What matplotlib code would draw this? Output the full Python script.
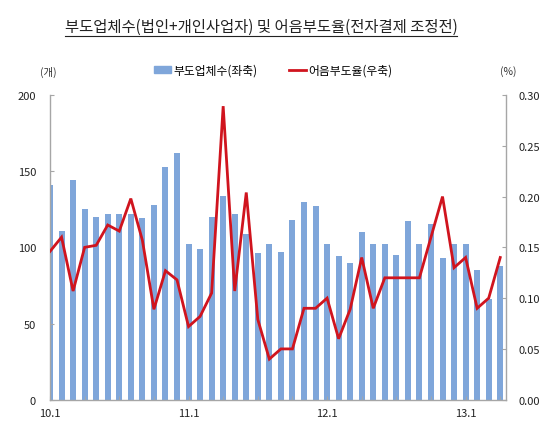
import matplotlib
matplotlib.use("Agg")
import matplotlib.pyplot as plt
from matplotlib.lines import Line2D
from matplotlib.patches import Patch
import numpy as np

plt.rcParams['font.family'] = ['Noto Sans CJK KR', 'DejaVu Sans']

# 월 (2010.1 ~ 2013.4)
months = [f"{y}.{m}" for y in (10, 11, 12, 13) for m in range(1, 13)][:40]

# 부도업체수 (좌축, 개)
firms = [141, 111, 144, 125, 120, 122, 122, 122, 119, 128,
         153, 162, 102, 99, 120, 134, 122, 109, 96, 102,
         97, 118, 130, 127, 102, 94, 90, 110, 102, 102,
         95, 117, 102, 115, 93, 102, 102, 85, 66, 88]

# 어음부도율 (우축, %)
rate = [0.146, 0.16, 0.107, 0.15, 0.152, 0.172, 0.166, 0.198, 0.157, 0.089,
        0.127, 0.118, 0.072, 0.082, 0.105, 0.289, 0.107, 0.204, 0.079, 0.04,
        0.05, 0.05, 0.09, 0.09, 0.10, 0.06, 0.089, 0.14, 0.09, 0.12,
        0.12, 0.12, 0.12, 0.16, 0.20, 0.13, 0.14, 0.09, 0.10, 0.14]

bar_color = '#7fa6da'
line_color = '#d0141e'
axis_gray = '#a6a6a6'

fig = plt.figure(figsize=(5.6, 4.31), dpi=100)
ax = fig.add_axes([0.0893, 0.0703, 0.8143, 0.707])
ax2 = ax.twinx()

x = np.arange(len(months))
ax.bar(x, firms, width=0.52, color=bar_color, zorder=1)
ax2.plot(x, rate, color=line_color, lw=2.0, solid_joinstyle='miter', zorder=3)

ax.set_xlim(0, len(months) - 0.5)
ax.set_ylim(0, 200)
ax2.set_ylim(0, 0.30)

ax.set_yticks([0, 50, 100, 150, 200])
ax2.set_yticks([0, 0.05, 0.10, 0.15, 0.20, 0.25, 0.30])
ax2.set_yticklabels([f"{v:.2f}" for v in [0, 0.05, 0.10, 0.15, 0.20, 0.25, 0.30]])

major = [i for i, m in enumerate(months) if m.endswith('.1') and not m.endswith('.11')]
ax.set_xticks(major)
ax.set_xticklabels([months[i] for i in major])
ax.set_xticks(np.arange(0, len(months), 3), minor=True)

for a in (ax, ax2):
    for s in a.spines.values():
        s.set_color(axis_gray)
        s.set_linewidth(1.0)
    a.spines['top'].set_visible(False)
ax.spines['right'].set_visible(False)
ax2.spines['left'].set_visible(False)
ax2.spines['bottom'].set_visible(False)

ax.tick_params(axis='y', direction='in', length=3, color=axis_gray,
               labelsize=8, pad=10, labelcolor='#222222')
ax2.tick_params(axis='y', direction='in', length=3, color=axis_gray,
                labelsize=8, pad=9, labelcolor='#222222')
ax.tick_params(axis='x', which='both', direction='in', length=3, color=axis_gray,
               labelsize=8, pad=6, labelcolor='#222222')

# 축 단위
fig.text(0.086, 0.833, '(개)', ha='center', va='center', fontsize=7.5, color='#333333')
fig.text(0.907, 0.833, '(%)', ha='center', va='center', fontsize=7.5, color='#333333')

# 범례
handles = [Patch(color=bar_color), Line2D([0], [0], color=line_color, lw=2)]
fig.legend(handles, ['부도업체수(좌축)', '어음부도율(우축)'], loc='center',
           bbox_to_anchor=(0.488, 0.835), ncol=2, frameon=False, fontsize=8.5,
           handlelength=1.5, handleheight=0.6, columnspacing=2.6, handletextpad=0.2)

# 제목 (밑줄)
title = fig.text(0.466, 0.937, '부도업체수(법인+개인사업자) 및 어음부도율(전자결제 조정전)',
                 ha='center', va='center', fontsize=11.1, color='#222222')
fig.canvas.draw()
bb = title.get_window_extent().transformed(fig.transFigure.inverted())
fig.add_artist(Line2D([bb.x0, bb.x1], [bb.y0 - 0.002, bb.y0 - 0.002],
                      color='#222222', lw=0.8, transform=fig.transFigure))

fig.savefig('out.png', dpi=100)
